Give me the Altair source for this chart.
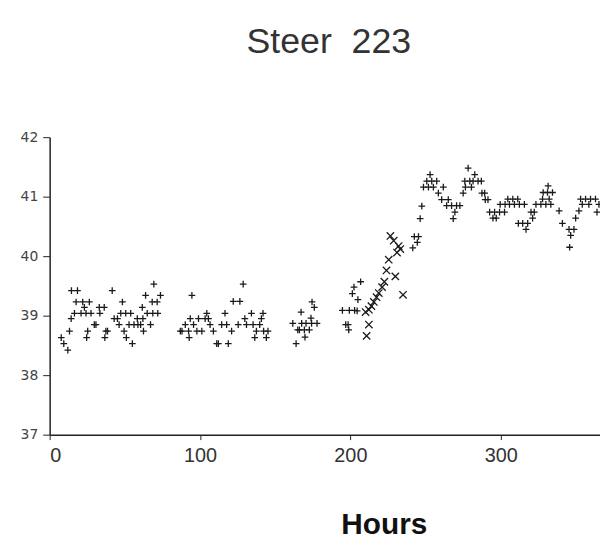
import altair as alt
import pandas as pd

# Readings shown with "+"
plus_hours = [
    7.7, 9.4, 12.1, 13.2, 14.3, 14.5, 16.5, 17.6, 18.5, 20.9, 22.0, 23.1, 24.2, 24.6, 25.3, 26.4, 27.5,
    29.7, 30.8, 33.0, 33.4, 36.3, 36.7, 37.4, 38.5, 41.6, 42.9, 45.1, 46.2, 47.3, 48.4, 49.5, 50.6, 51.0,
    52.8, 53.9, 55.0, 56.1, 58.3, 58.7, 60.5, 61.6, 62.0, 62.4, 63.8, 64.9, 67.1, 68.2, 68.6, 69.3, 71.5,
    71.9, 73.7,
    86.9, 88.0, 90.2, 92.4, 92.8, 93.5, 94.6, 95.7, 97.9, 99.0, 101.2, 103.4, 104.5, 105.6, 106.7, 108.9,
    111.1, 112.2, 114.4, 116.6, 117.7, 118.8, 121.0, 122.1, 125.4, 126.5, 128.7, 129.8, 130.9, 134.2,
    135.3, 136.4, 137.5, 139.7, 140.8, 141.9, 142.3, 144.1, 145.2,
    161.7, 163.9, 165.0, 166.1, 167.2, 167.6, 169.4, 169.8, 170.5, 172.7, 173.8, 174.2, 174.5, 176.0, 177.8,
    194.7, 196.9, 198.5, 198.9, 199.3, 201.3, 202.4, 202.8, 204.5, 205.0, 206.8,
    241.5, 242.5, 244.5, 245.3, 246.4, 247.5, 248.6, 250.8, 251.9, 253.0, 254.1, 255.2, 257.4, 258.5,
    260.7, 261.8, 264.0, 265.1, 267.3, 268.4, 269.5, 270.6, 272.8, 275.0, 276.1, 276.5, 278.3, 279.4,
    280.5, 281.6, 282.7, 284.9, 287.1, 287.5, 289.3, 289.7, 291.5, 292.6, 294.8, 295.9, 297.0, 299.2,
    299.6, 302.5, 302.9, 304.7, 305.8, 308.0, 309.1, 311.3, 311.7, 312.4, 314.6, 315.7, 316.8, 317.9,
    320.1, 321.2, 322.3, 323.4, 326.7, 327.8, 328.2, 330.0, 331.1, 331.5, 332.2, 333.3, 334.4, 338.8,
    341.0, 345.4, 345.8, 346.5, 348.7, 349.8, 352.0, 353.1, 354.2, 356.4, 358.6, 359.7, 363.0, 364.0,
    365.3,
]
plus_temp = [
    38.63, 38.53, 38.42, 38.74, 38.95, 39.42, 39.04, 39.23, 39.42, 39.04, 39.23, 39.14, 39.04, 38.63, 38.74, 39.23, 39.04,
    38.85, 38.85, 39.14, 39.04, 39.14, 38.63, 38.74, 38.74, 39.42, 38.95, 38.95, 38.85, 39.04, 39.23, 38.74, 39.04, 38.63,
    38.85, 39.04, 38.53, 38.85, 38.95, 38.85, 38.85, 39.14, 38.95, 38.74, 39.34, 39.04, 38.85, 39.23, 39.04, 39.53, 39.23,
    39.04, 39.34,
    38.74, 38.74, 38.85, 38.74, 38.63, 38.95, 39.34, 38.85, 38.74, 38.95, 38.74, 38.95, 39.04, 38.95, 38.85, 38.74,
    38.53, 38.53, 38.85, 39.04, 38.85, 38.53, 38.74, 39.24, 38.85, 39.24, 39.53, 38.95, 38.85, 39.04,
    38.85, 38.63, 38.74, 38.85, 38.95, 39.04, 38.74, 38.63, 38.74,
    38.87, 38.53, 38.76, 38.76, 39.06, 38.87, 38.76, 38.64, 38.87, 38.76, 38.96, 38.87, 39.23, 39.14, 38.87,
    39.09, 38.85, 38.85, 38.76, 39.09, 39.37, 39.48, 39.09, 39.08, 39.27, 39.57,
    40.14, 40.33, 40.23, 40.33, 40.63, 40.84, 41.16, 41.26, 41.16, 41.37, 41.26, 41.16, 41.26, 41.06,
    40.95, 41.16, 40.85, 40.95, 40.85, 40.63, 40.74, 40.85, 40.85, 41.06, 41.26, 41.16, 41.48, 41.26,
    41.16, 41.26, 41.37, 41.26, 41.26, 41.06, 41.06, 40.95, 40.95, 40.74, 40.64, 40.74, 40.64, 40.74,
    40.87, 40.74, 40.87, 40.96, 40.87, 40.96, 40.87, 40.96, 40.55, 40.87, 40.55, 40.87, 40.45, 40.55,
    40.74, 40.64, 40.74, 40.87, 40.87, 40.96, 41.07, 40.87, 41.07, 41.18, 40.96, 40.87, 41.07, 40.76,
    40.55, 40.45, 40.15, 40.35, 40.45, 40.64, 40.76, 40.96, 40.87, 40.96, 40.87, 40.96, 40.96, 40.74,
    40.87,
]

# Readings shown with "x"
x_hours = [210.8, 212.3, 210.1, 212.3, 214.0, 215.6, 217.4, 218.9, 221.1, 222.6, 224.0, 225.5,
           229.9, 231.0, 233.2, 232.1, 228.8, 226.6, 235.0]
x_temp = [38.66, 38.85, 39.06, 39.10, 39.16, 39.23, 39.31, 39.38, 39.48, 39.57, 39.76, 39.94,
          39.66, 40.06, 40.12, 40.17, 40.26, 40.34, 39.35]

x_ticks = [0, 100, 200, 300]
y_ticks = [37, 38, 39, 40, 41, 42]

df = pd.DataFrame({
    "hours": plus_hours + x_hours,
    "temp": plus_temp + x_temp,
    "symbol": ["plus"] * len(plus_hours) + ["x"] * len(x_hours),
})

PLUS = "M-1,0L1,0M0,-1L0,1"
XS = "M-1,-1L1,1M-1,1L1,-1"

chart = alt.Chart(df).mark_point(
    filled=False, strokeWidth=1.3, color="#1a1a1a", opacity=1
).encode(
    x=alt.X("hours:Q",
            scale=alt.Scale(domain=[0, 366], nice=False, zero=True),
            axis=alt.Axis(values=x_ticks, title="Hours", grid=False,
                          labelFont="Liberation Sans", labelFontSize=20,
                          labelColor="#333", tickSize=5, labelPadding=6,
                          domainColor="#222", domainWidth=1.5, tickColor="#222",
                          titleFont="Liberation Sans", titleFontSize=30,
                          titleFontWeight="bold", titleColor="#111",
                          titleAlign="center", titleAnchor="start",
                          titleX=337, titleY=100, titleBaseline="alphabetic")),
    y=alt.Y("temp:Q",
            scale=alt.Scale(domain=[37, 42], nice=False, zero=False),
            axis=alt.Axis(values=y_ticks, title=None, grid=False,
                          labelFont="DejaVu Sans", labelFontSize=14, labelColor="#444",
                          tickSize=7, labelPadding=5, domainColor="#222",
                          domainWidth=1.5, tickColor="#222")),
    shape=alt.Shape("symbol:N", scale=alt.Scale(domain=["plus", "x"], range=[PLUS, XS]), legend=None),
    size=alt.Size("symbol:N", scale=alt.Scale(domain=["plus", "x"], range=[45, 55]), legend=None),
).properties(
    width=555,
    height=300,
    title=alt.TitleParams("Steer\u00a0\u00a0223", font="Liberation Sans", fontSize=36,
                          fontWeight="normal", color="#333", anchor="middle",
                          frame="group", offset=42, baseline="alphabetic", dx=4),
    autosize=alt.AutoSizeParams(type="none"),
    padding={"left": 42, "top": 128, "right": 0, "bottom": 107},
).configure_view(stroke=None)

chart.save("out.html", embed_options={"renderer": "svg", "actions": False})
